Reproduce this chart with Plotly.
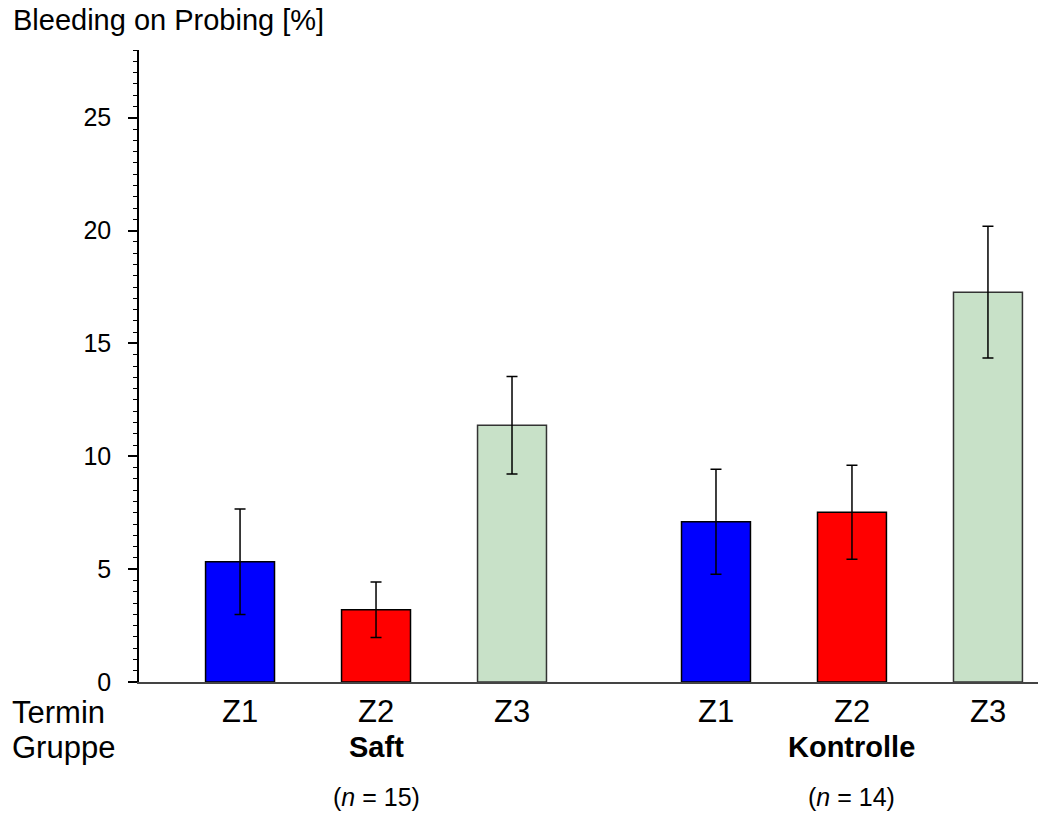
import plotly.graph_objects as go

# Bleeding on Probing per group and appointment (mean with error)
groups = ["Saft", "Saft", "Saft", "Kontrolle", "Kontrolle", "Kontrolle"]
termine = ["Z1", "Z2", "Z3", "Z1", "Z2", "Z3"]
positions = [0, 1, 2, 3.5, 4.5, 5.5]
bop_mean = [5.33, 3.20, 11.38, 7.10, 7.52, 17.27]
bop_err = [2.34, 1.23, 2.16, 2.33, 2.08, 2.92]
bar_colors = ["#0000FF", "#FF0000", "#C8E1C8", "#0000FF", "#FF0000", "#C8E1C8"]
edge_colors = ["#000000", "#000000", "#333333", "#000000", "#000000", "#333333"]

group_labels = ["Saft", "Kontrolle"]
group_centers = [1, 4.5]
group_n = [15, 14]

W, H = 1038, 816
L, R, T, B = 139, 0, 50, 134
plot_h = H - T - B

FONT = "Arial, Liberation Sans, sans-serif"


def py(px_from_top):
    """Paper y-coordinate for a pixel row of the page."""
    return (H - B - px_from_top) / plot_h


def px(px_from_left):
    """Paper x-coordinate for a pixel column of the page."""
    return (px_from_left - L) / (W - L - R)


fig = go.Figure(
    go.Bar(
        x=positions,
        y=bop_mean,
        width=0.507,
        marker=dict(color=bar_colors, line=dict(color=edge_colors, width=1.5)),
        error_y=dict(type="data", array=bop_err, visible=True,
                     color="#000000", thickness=1.5, width=5.5),
        hoverinfo="skip",
    )
)

annotations = [
    dict(text="Bleeding on Probing [%]", xref="paper", yref="paper",
         x=px(11), y=py(20), xanchor="left", yanchor="middle",
         showarrow=False, font=dict(size=29, color="#000000", family=FONT)),
    dict(text="Termin", xref="paper", yref="paper",
         x=px(10), y=py(712), xanchor="left", yanchor="middle",
         showarrow=False, font=dict(size=31, color="#000000", family=FONT)),
    dict(text="Gruppe", xref="paper", yref="paper",
         x=px(10), y=py(747), xanchor="left", yanchor="middle",
         showarrow=False, font=dict(size=31, color="#000000", family=FONT)),
]

for pos, t in zip(positions, termine):
    annotations.append(dict(text=t, xref="x", yref="paper", x=pos, y=py(711),
                            xanchor="center", yanchor="middle", showarrow=False,
                            font=dict(size=31, color="#000000", family=FONT)))

for lab, c, n in zip(group_labels, group_centers, group_n):
    annotations.append(dict(text=f"<b>{lab}</b>", xref="x", yref="paper", x=c,
                            y=py(747), xanchor="center", yanchor="middle",
                            showarrow=False,
                            font=dict(size=29, color="#000000", family=FONT)))
    annotations.append(dict(text=f"(<i>n</i> = {n})", xref="x", yref="paper", x=c,
                            y=py(797), xanchor="center", yanchor="middle",
                            showarrow=False,
                            font=dict(size=25, color="#000000", family=FONT)))

fig.update_layout(
    width=W, height=H,
    margin=dict(l=L, r=R, t=T, b=B, pad=0),
    paper_bgcolor="#FFFFFF", plot_bgcolor="#FFFFFF",
    showlegend=False,
    font=dict(family=FONT, color="#000000"),
    xaxis=dict(range=[-0.743, 5.868], showgrid=False, zeroline=False,
               showticklabels=False, ticks="", showline=True,
               linecolor="#444444", linewidth=1.5, fixedrange=True),
    yaxis=dict(range=[0, 28], dtick=5, tick0=0, showgrid=False, zeroline=False,
               showline=True, linecolor="#000000", linewidth=1.5,
               ticks="outside", ticklen=9, tickwidth=1.5, tickcolor="#000000",
               ticklabelstandoff=12,
               tickfont=dict(size=25, color="#000000", family=FONT),
               minor=dict(dtick=0.5, tick0=0, ticks="outside", ticklen=4,
                          tickwidth=1, tickcolor="#000000", showgrid=False),
               fixedrange=True),
    annotations=annotations,
)

fig.write_html("out.html", config={"displayModeBar": False})
